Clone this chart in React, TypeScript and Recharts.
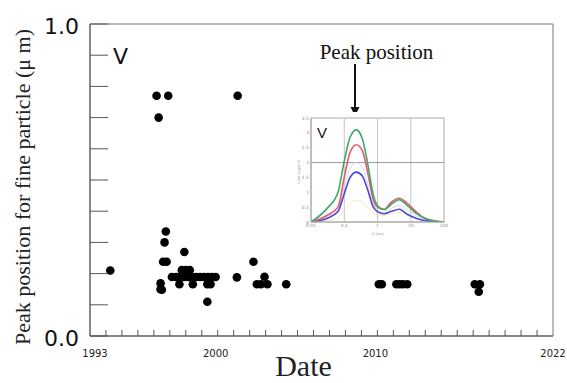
import React from 'react';
import {
  ScatterChart, Scatter, XAxis, YAxis, ReferenceArea, Customized,
  LineChart, Line, ReferenceLine,
} from 'recharts';

// ---- main scatter data: sampling date (decimal year) vs peak position (µm)
const sampleYears = [
  1993.27,
  1996.17, 1996.9, 1996.3, 2001.25,
  1996.75, 1996.67, 1996.58, 1996.8, 1996.42, 1996.42, 1996.5,
  1997.75, 1998.0, 1998.25, 1997.91,
  1997.13, 1997.4, 1997.65, 1997.9, 1998.15, 1998.4, 1998.65, 1998.9, 1999.15, 1999.4, 1999.62, 1999.87,
  1997.6, 1998.44, 1999.35, 1999.55,
  1999.35,
  2001.2, 2002.24, 2002.45, 2002.7, 2003.11, 2002.93, 2004.29,
  2010.09, 2010.28, 2011.19, 2011.4, 2011.6, 2011.87,
  2016.1, 2016.42, 2016.35,
];
const peakValues = [
  0.21,
  0.77, 0.77, 0.70, 0.77,
  0.335, 0.30, 0.238, 0.238, 0.169, 0.150, 0.148,
  0.211, 0.211, 0.211, 0.269,
  0.189, 0.189, 0.189, 0.189, 0.189, 0.189, 0.189, 0.189, 0.189, 0.189, 0.189, 0.189,
  0.166, 0.166, 0.166, 0.166,
  0.11,
  0.188, 0.238, 0.166, 0.166, 0.166, 0.19, 0.166,
  0.166, 0.166, 0.166, 0.166, 0.166, 0.166,
  0.166, 0.166, 0.142,
];
const points = sampleYears.map((year, i) => ({ year, value: peakValues[i] }));

const xTicks = [1992, 1993, 1994, 1995, 1996, 1997, 1998, 1999, 2000, 2001, 2002, 2003, 2004, 2005, 2006,
  2007, 2008, 2009, 2010, 2011, 2012, 2013, 2014, 2015, 2016, 2017, 2018, 2019, 2020, 2021];
const xTickLabels: Record<number, string> = { 1992: '1993', 2000: '2000', 2010: '2010', 2021: '2022' };
const yTicks = [0, 0.1, 0.2, 0.3, 0.4, 0.5, 0.6, 0.7, 0.8, 0.9, 1.0];
const yTickLabels: Record<number, string> = { 0: '0.0', 1: '1.0' };

// ---- inset: size distribution (D in µm vs concentration)
const insetD = [0.01, 0.03, 0.065, 0.1, 0.15, 0.23, 0.35, 0.5, 0.75, 1.0, 1.6, 2.5, 4.5, 8, 15, 30, 100];
const greenConc = [0, 0.45, 1.0, 2.05, 2.85, 3.1, 2.8, 2.0, 0.9, 0.55, 0.42, 0.58, 0.75, 0.55, 0.28, 0.1, 0];
const redConc = [0, 0.22, 0.5, 1.5, 2.35, 2.6, 2.4, 1.7, 0.75, 0.5, 0.42, 0.65, 0.8, 0.62, 0.33, 0.1, 0];
const blueConc = [0, 0.12, 0.35, 0.95, 1.5, 1.68, 1.55, 1.1, 0.5, 0.35, 0.28, 0.35, 0.43, 0.25, 0.12, 0.04, 0];
const lavenderConc = [0, 0.18, 0.4, 1.2, 1.8, 2.0, 1.85, 1.3, 0.6, 0.4, 0.3, 0.45, 0.55, 0.4, 0.2, 0.07, 0];
const yellowConc = [0, 0.05, 0.15, 0.4, 0.62, 0.72, 0.68, 0.5, 0.3, 0.25, 0.22, 0.28, 0.32, 0.25, 0.12, 0.04, 0];
const insetData = insetD.map((d, i) => ({
  d, green: greenConc[i], red: redConc[i], blue: blueConc[i], lav: lavenderConc[i], yel: yellowConc[i],
}));
const insetXTicks = [0.01, 0.1, 1, 10, 100];
const insetYTicks = [0, 0.5, 1, 1.5, 2, 2.5, 3, 3.5];

const AXIS = '#555';

const XTick = (props: any) => {
  const { x, y, payload } = props;
  const v = payload.value;
  const label = xTickLabels[v];
  const dx = v === 1992 ? 5 : v === 2021 ? 0 : -2;
  return (
    <g>
      {v > 1992 && v < 2021 && <line x1={x} x2={x} y1={y} y2={y - 6} stroke={AXIS} strokeWidth={1} />}
      {label && (
        <text x={x + dx} y={y + 20.5} textAnchor="middle" fontSize={10} fontFamily="DejaVu Sans" fill="#222">
          {label}
        </text>
      )}
    </g>
  );
};

const YTick = (props: any) => {
  const { x, y, payload } = props;
  const v = payload.value;
  const label = yTickLabels[v];
  return (
    <g>
      <line x1={x} x2={x + 18} y1={y} y2={y} stroke={AXIS} strokeWidth={1} />
      {label && (
        <text x={x - 11} y={y + 10} textAnchor="end" fontSize={22} fontFamily="DejaVu Sans" fill="#111">
          {label}
        </text>
      )}
    </g>
  );
};

const Dot = (props: any) => <circle cx={props.cx} cy={props.cy} r={4.3} fill="#000" />;

const Annotations = () => (
  <g>
    <text x={113} y={64} fontSize={22} fontFamily="DejaVu Sans" fill="#111">V</text>
    <text x={376.5} y={59} textAnchor="middle" fontSize={21} fontFamily="Liberation Serif" fill="#111">
      Peak position
    </text>
    <line x1={355} x2={355} y1={64} y2={109} stroke="#111" strokeWidth={2} />
    <polygon points="350.5,107 359.5,107 355,116" fill="#111" />
    <text x={303.5} y={376} textAnchor="middle" fontSize={30} fontFamily="Liberation Serif" fill="#222">Date</text>
    <text transform="translate(30,187) rotate(-90)" textAnchor="middle" fontSize={22}
      fontFamily="Liberation Serif" fill="#222">
      Peak position for fine particle (μ m)
    </text>
  </g>
);

const InsetXTick = (props: any) => {
  const { x, y, payload } = props;
  return (
    <text x={x} y={y + 5} textAnchor="middle" fontSize={4.5} fontFamily="DejaVu Sans" fill="#888">
      {String(payload.value)}
    </text>
  );
};
const InsetYTick = (props: any) => {
  const { x, y, payload } = props;
  return (
    <text x={x - 2} y={y + 1.5} textAnchor="end" fontSize={4.5} fontFamily="DejaVu Sans" fill="#888">
      {String(payload.value)}
    </text>
  );
};

export default function App() {
  return (
    <div style={{ position: 'absolute', left: 0, top: 0, width: 567, height: 383, background: '#fff' }}>
      <ScatterChart width={567} height={383} margin={{ top: 24, right: 14, bottom: 0, left: 0 }}>
        <XAxis
          dataKey="year" type="number" domain={[1992, 2021]} ticks={xTicks} interval={0}
          allowDataOverflow height={47} tickSize={0} tickMargin={0} tickLine={false}
          axisLine={{ stroke: AXIS }} tick={<XTick />}
        />
        <YAxis
          dataKey="value" type="number" domain={[0, 1]} ticks={yTicks} interval={0}
          allowDataOverflow width={90} tickSize={0} tickMargin={0} tickLine={false}
          axisLine={{ stroke: AXIS }} tick={<YTick />}
        />
        <ReferenceArea x1={1992} x2={2021} y1={0} y2={1} fill="none" stroke="#777" strokeWidth={1} />
        <Scatter data={points} shape={<Dot />} isAnimationActive={false} />
        <Customized component={Annotations} />
      </ScatterChart>
      <div style={{ position: 'absolute', left: 296, top: 112, width: 152, height: 124, background: '#fff' }}>
        <LineChart width={152} height={124} data={insetData} margin={{ top: 6, right: 4, left: 3, bottom: 4 }}>
          <XAxis
            dataKey="d" type="number" scale="log" domain={[0.01, 100]} ticks={insetXTicks} interval={0}
            allowDataOverflow height={10} tickSize={0} tickMargin={0} tickLine={false}
            axisLine={{ stroke: '#aaa' }} tick={<InsetXTick />}
          />
          <YAxis
            type="number" domain={[0, 3.5]} ticks={insetYTicks} interval={0} allowDataOverflow
            width={12} tickSize={0} tickMargin={0} tickLine={false} axisLine={{ stroke: '#aaa' }}
            tick={<InsetYTick />}
          />
          <ReferenceLine x={0.1} stroke="#c4c4c4" />
          <ReferenceLine x={1} stroke="#c4c4c4" />
          <ReferenceLine x={10} stroke="#c4c4c4" />
          <ReferenceLine y={2} stroke="#999" />
          <ReferenceArea x1={0.01} x2={100} y1={0} y2={3.5} fill="none" stroke="#aaa" />
          <Line dataKey="yel" type="monotone" stroke="#efe2a8" strokeWidth={0.8} dot={false} isAnimationActive={false} />
          <Line dataKey="lav" type="monotone" stroke="#cfc8f2" strokeWidth={0.8} dot={false} isAnimationActive={false} />
          <Line dataKey="blue" type="monotone" stroke="#4a4ad6" strokeWidth={1.6} dot={false} isAnimationActive={false} />
          <Line dataKey="red" type="monotone" stroke="#e85a6e" strokeWidth={1.6} dot={false} isAnimationActive={false} />
          <Line dataKey="green" type="monotone" stroke="#3fa862" strokeWidth={1.6} dot={false} isAnimationActive={false} />
          <Customized component={() => (
            <g>
              <text x={21} y={26} fontSize={15} fontFamily="Liberation Sans" fill="#111">V</text>
              <text x={82} y={123} textAnchor="middle" fontSize={3.5} fontFamily="DejaVu Sans" fill="#999">D (μm)</text>
              <text transform="translate(4,60) rotate(-90)" textAnchor="middle" fontSize={3.5}
                fontFamily="DejaVu Sans" fill="#999">Conc (ug/m3)</text>
            </g>
          )} />
        </LineChart>
      </div>
    </div>
  );
}
